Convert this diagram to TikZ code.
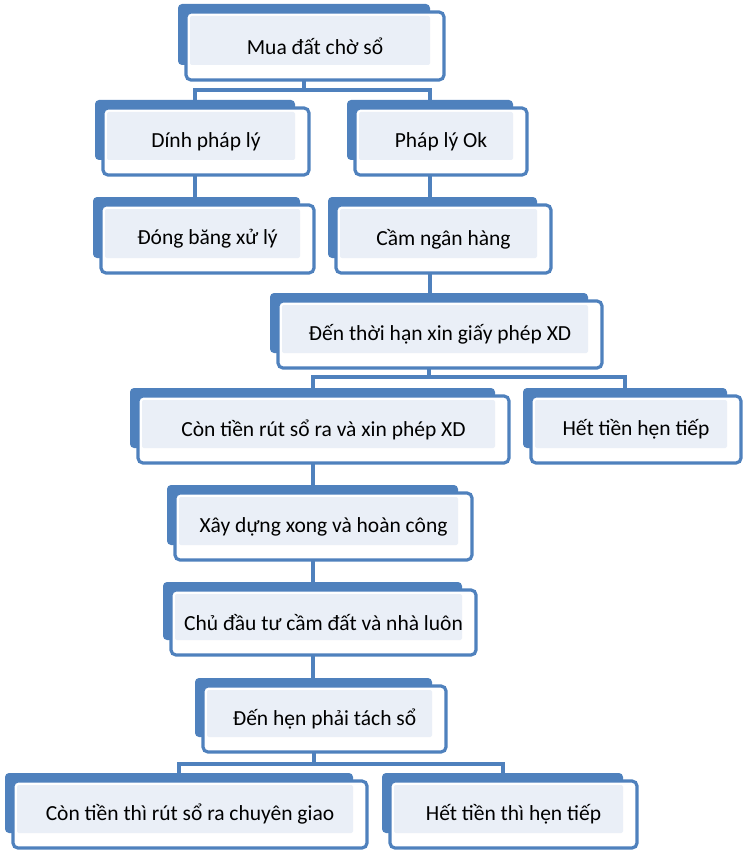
\documentclass[tikz,border=0pt]{standalone}
\usepackage{fontspec}
\setmainfont{Carlito}
\usetikzlibrary{positioning}

\definecolor{sablue}{HTML}{4F81BD}
\definecolor{salight}{HTML}{EAEFF7}
\pgfdeclarelayer{bg}
\pgfsetlayers{bg,main}

\begin{document}
\begin{tikzpicture}[x=1pt,y=-1pt,
    backbox/.style={fill=sablue,rounded corners=4pt,inner sep=0pt,outer sep=0pt},
    frontbox/.style={fill=white,draw=sablue,line width=3.2pt,rounded corners=5pt,inner sep=0pt,outer sep=0pt},
    boxtext/.style={font=\fontsize{21.5}{25}\selectfont,text=black},
    link/.style={draw=sablue,line width=4pt}]
    \useasboundingbox (0,0) rectangle (750,853);

    % les cases : nom / rectangle arriere / texte
    \foreach \nm/\xa/\ya/\xb/\yb/\txt in {
        mua/178/4/430/65/Mua đất chờ sổ,
        dinh/95/100/295/160/Dính pháp lý,
        phap/347/100/513/160/Pháp lý Ok,
        dong/93/197/300/258/Đóng băng xử lý,
        cam/328/197/537/258/Cầm ngân hàng,
        denthoi/270/293/588/353/Đến thời hạn xin giấy phép XD,
        conrut/130/388/495/448/Còn tiền rút sổ ra và xin phép XD,
        hettien/523/388/727/448/Hết tiền hẹn tiếp,
        xay/167/485/458/545/Xây dựng xong và hoàn công,
        chu/163/582/462/640/Chủ đầu tư cầm đất và nhà luôn,
        denhen/195/678/432/737/Đến hẹn phải tách sổ,
        conthi/5/773/353/833/Còn tiền thì rút sổ ra chuyên giao,
        hetthi/382/773/623/833/Hết tiền thì hẹn tiếp} {
        \node[backbox,minimum width={(\xb-\xa)*1pt},minimum height={(\yb-\ya)*1pt}]
            (\nm) at ({(\xa+\xb)/2},{(\ya+\yb)/2}) {};
        \node[frontbox,minimum width={(\xb-\xa+6)*1pt},minimum height={(\yb-\ya+7)*1pt}]
            (\nm-f) at ([xshift=11pt,yshift=-11.5pt]\nm.center) {};
        \fill[salight,rounded corners=2pt] ([xshift=4pt,yshift=-4pt]\nm-f.north west) rectangle (\nm.south east);
        \node[boxtext] (\nm-t) at (\nm-f) {\txt};
    }

    % les liaisons, derriere les cases
    \begin{pgfonlayer}{bg}
        \coordinate (busa) at (0,90);
        \coordinate (busb) at (0,377);
        \coordinate (busc) at (0,764);

        \draw[link] (mua.center) -- (mua.center |- busa) -| (dinh.center);
        \draw[link] (mua.center |- busa) -| (phap.center);
        \draw[link] (dinh.center) -- (dinh.center |- dong.center);
        \draw[link] (phap.center) -- (phap.center |- cam.center);
        \draw[link] (phap.center |- cam.center) -- (phap.center |- denthoi.center);

        \draw[link] (denthoi.center) -- (denthoi.center |- busb) -| (conrut.center);
        \draw[link] (denthoi.center |- busb) -| (hettien.center);
        \draw[link] (conrut.center) -- (conrut.center |- xay.center);
        \draw[link] (xay.center) -- (xay.center |- chu.center);
        \draw[link] (chu.center) -- (chu.center |- denhen.center);

        \draw[link] (denhen.center) -- (denhen.center |- busc) -| (conthi.center);
        \draw[link] (denhen.center |- busc) -| (hetthi.center);
    \end{pgfonlayer}
\end{tikzpicture}
\end{document}
